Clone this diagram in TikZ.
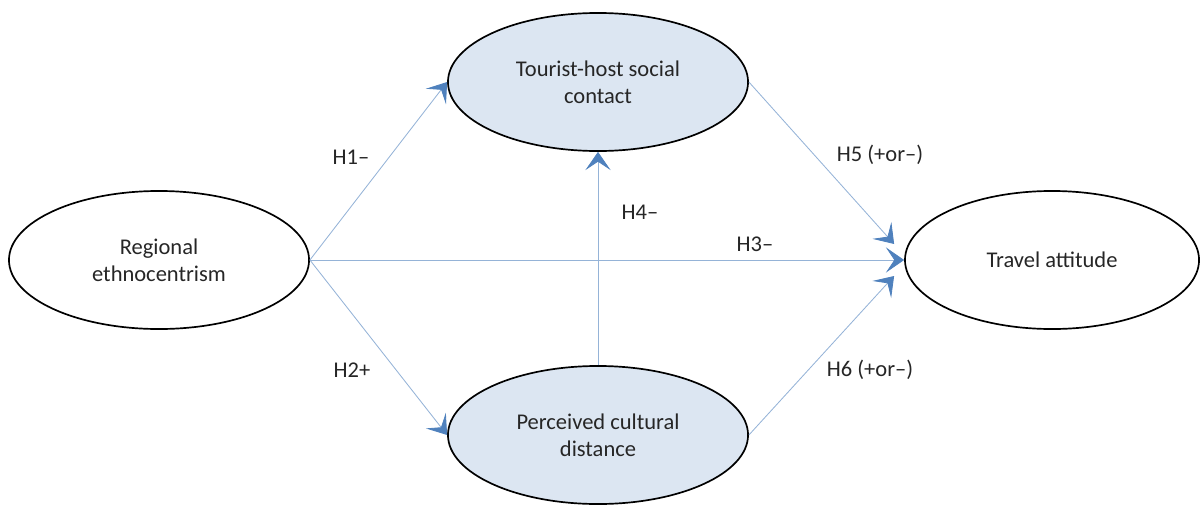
\documentclass[tikz,border=0pt]{standalone}
\usepackage{fontspec}
\setmainfont{Carlito}
\usetikzlibrary{shapes, calc, arrows.meta}

\definecolor{fillblue}{HTML}{DCE6F2}
\definecolor{lineblue}{HTML}{95B3D7}
\definecolor{tipblue}{HTML}{4F81BD}
\definecolor{textgrey}{HTML}{262626}

\tikzset{
	construct/.style={ellipse, draw=black, line width=1.2pt, minimum width=7.5cm, minimum height=3.45cm, align=center, text=textgrey, font=\fontsize{16}{19.5}\selectfont},
	path/.style={draw=lineblue, line width=0.6pt, -{Stealth[length=13pt, width=18pt, inset=6pt, fill=tipblue, color=tipblue]}},
	hyp/.style={text=textgrey, font=\fontsize{16}{19}\selectfont}
}

\begin{document}
\begin{tikzpicture}[x=0.025cm, y=-0.025cm]

	\useasboundingbox (0,0) rectangle (1201,506);

	% constructs
	\node[construct] (re) at (159,260) {Regional\\ethnocentrism};
	\node[construct, fill=fillblue] (th) at (598,82) {Tourist-host social\\contact};
	\node[construct, fill=fillblue] (pd) at (598,435) {Perceived cultural\\distance};
	\node[construct, minimum width=7.35cm] (ta) at (1052,260) {Travel attitude};

	% paths
	\draw[path] (re.east) -- (th.west);
	\draw[path] (re.east) -- (pd.west);
	\draw[path] (re.east) -- (ta.west);
	\draw[path] (pd.north) -- (th.south);
	\draw[path] (th.east) -- ($(ta.west)+(-10,-16)$);
	\draw[path] (pd.east) -- ($(ta.west)+(-10,16)$);

	% hypotheses
	\node[hyp] (h1) at (351,157) {H1–};
	\node[hyp] (h2) at (352,370) {H2+};
	\node[hyp] (h3) at (755,244) {H3–};
	\node[hyp] (h4) at (640,212) {H4–};
	\node[hyp] (h5) at (880,155) {H5 (+or–)};
	\node[hyp] (h6) at (870,370) {H6 (+or–)};
\end{tikzpicture}
\end{document}
